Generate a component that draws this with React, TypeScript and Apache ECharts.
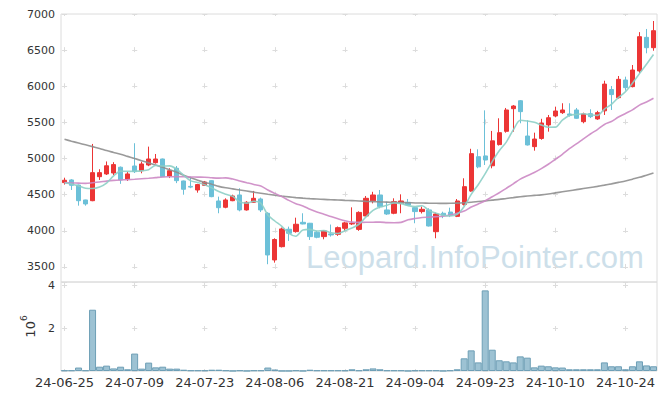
import React, { useEffect, useRef } from 'react';
import * as echarts from 'echarts';

const dates = [
  '24-06-25','24-06-26','24-06-27','24-06-28','24-07-01','24-07-02','24-07-03','24-07-04','24-07-05','24-07-08',
  '24-07-09','24-07-10','24-07-11','24-07-12','24-07-15','24-07-16','24-07-17','24-07-18','24-07-19','24-07-22',
  '24-07-23','24-07-24','24-07-25','24-07-26','24-07-29','24-07-30','24-07-31','24-08-01','24-08-02','24-08-05',
  '24-08-06','24-08-07','24-08-08','24-08-09','24-08-12','24-08-13','24-08-14','24-08-16','24-08-19','24-08-20',
  '24-08-21','24-08-22','24-08-23','24-08-26','24-08-27','24-08-28','24-08-29','24-08-30','24-09-02','24-09-03',
  '24-09-04','24-09-05','24-09-06','24-09-09','24-09-10','24-09-11','24-09-12','24-09-13','24-09-19','24-09-20',
  '24-09-23','24-09-24','24-09-25','24-09-26','24-09-27','24-09-30','24-10-02','24-10-04','24-10-07','24-10-08',
  '24-10-10','24-10-11','24-10-14','24-10-15','24-10-16','24-10-17','24-10-18','24-10-21','24-10-22','24-10-23',
  '24-10-24','24-10-25','24-10-28','24-10-29','24-10-30'
];

const opens = [
  4667,4704,4634,4427,4417,4749,4787,4800,4880,4717,
  4897,4832,4911,4943,4994,4759,4866,4690,4615,4565,
  4630,4694,4413,4326,4417,4496,4289,4395,4441,4243,
  3597,3781,4022,3989,4118,4105,3980,3920,3957,3952,
  4035,4095,4020,4206,4415,4496,4289,4243,4381,4395,
  4321,4266,4289,3988,4243,4260,4200,4365,4550,5026,
  5036,4900,5193,5377,5690,5800,5312,5165,5278,5465,
  5589,5635,5617,5672,5510,5621,5548,5660,5955,5842,
  6087,5995,6212,6677,6534
];
const closes = [
  4700,4630,4417,4372,4805,4805,4900,4916,4704,4787,
  4818,4925,4994,4994,4749,4832,4694,4575,4605,4640,
  4676,4473,4320,4427,4482,4289,4395,4450,4289,3666,
  3880,4026,3966,4091,4095,3920,3911,3998,3943,4044,
  4110,4105,4255,4450,4496,4335,4233,4404,4413,4358,
  4266,4298,4067,4233,4215,4215,4413,4611,5068,4885,
  4980,5245,5358,5672,5727,5649,5188,5270,5492,5565,
  5658,5672,5598,5557,5617,5580,5635,6030,5885,6096,
  5981,6225,6686,6534,6769
];
const lows = [
  4640,4565,4348,4348,4410,4704,4773,4770,4650,4690,
  4800,4796,4895,4930,4745,4730,4660,4500,4590,4528,
  4620,4465,4243,4312,4410,4270,4280,4390,4260,3538,
  3560,3770,3860,3975,4090,3874,3897,3883,3920,3930,
  4000,4080,4000,4200,4380,4312,4220,4230,4243,4350,
  4105,4240,4060,3897,4175,4190,4190,4350,4540,4866,
  4911,4865,5180,5358,5372,5488,5180,5109,5260,5372,
  5571,5617,5580,5550,5488,5560,5535,5603,5672,5830,
  5940,5985,6180,6456,6492
];
const highs = [
  4735,4715,4640,4430,5202,4852,4960,4950,4890,4820,
  5212,4957,5165,5063,5000,4866,4897,4695,4750,4650,
  4690,4700,4473,4450,4500,4589,4410,4552,4460,4257,
  3897,4045,4058,4182,4243,4110,4000,4010,4087,4060,
  4125,4325,4270,4482,4540,4565,4404,4450,4505,4441,
  4330,4335,4312,4250,4265,4320,4440,4727,5135,5128,
  5667,5382,5557,5700,5740,5810,5530,5358,5550,5603,
  5718,5765,5765,5700,5635,5682,5660,6077,6004,6142,
  6133,6294,6749,6793,6903
];

const ma5 = [
  4665,4648,4621,4590,4585,4606,4660,4760,4826,4822,
  4825,4830,4846,4904,4896,4899,4853,4769,4691,4669,
  4638,4594,4543,4507,4476,4398,4383,4409,4381,4218,
  4136,4062,3965,3926,4012,4020,3997,4003,3973,3963,
  4001,4040,4091,4193,4283,4328,4354,4384,4376,4349,
  4335,4348,4280,4244,4216,4206,4229,4337,4504,4638,
  4791,4958,5107,5228,5396,5530,5519,5501,5465,5433,
  5435,5531,5597,5610,5620,5605,5597,5684,5749,5845,
  5925,6043,6175,6304,6439
];
const ma20 = [
  4667,4662,4660,4657,4665,4675,4688,4698,4704,4708,
  4713,4720,4727,4736,4745,4748,4750,4748,4745,4743,
  4742,4734,4729,4732,4716,4690,4665,4641,4621,4565,
  4518,4473,4421,4376,4344,4298,4259,4230,4197,4167,
  4139,4120,4117,4118,4119,4121,4113,4111,4117,4152,
  4171,4185,4190,4197,4203,4217,4243,4273,4329,4372,
  4415,4472,4527,4588,4650,4716,4763,4807,4861,4921,
  4990,5059,5136,5202,5272,5340,5401,5472,5513,5574,
  5624,5673,5739,5782,5834
];
const ma60 = [
  5267,5240,5215,5190,5165,5140,5110,5085,5060,5030,
  5000,4970,4940,4910,4880,4845,4810,4770,4735,4700,
  4670,4645,4615,4595,4580,4565,4550,4535,4520,4505,
  4492,4480,4470,4460,4452,4445,4440,4435,4430,4427,
  4422,4418,4413,4408,4404,4400,4397,4394,4391,4389,
  4386,4384,4382,4381,4380,4381,4383,4388,4395,4405,
  4415,4425,4435,4448,4460,4472,4482,4490,4498,4510,
  4525,4540,4555,4570,4585,4600,4615,4632,4650,4670,
  4690,4715,4740,4770,4800
];

// volume in millions (x 10^6)
const volumes = [
  0.03,0.03,0.16,0.03,2.85,0.20,0.25,0.12,0.20,0.08,
  0.81,0.11,0.39,0.17,0.20,0.11,0.11,0.06,0.03,0.03,
  0.03,0.06,0.06,0.03,0.005,0.03,0.005,0.03,0.03,0.16,
  0.07,0.005,0.005,0.03,0.005,0.06,0.03,0.03,0.03,0.03,
  0.03,0.08,0.03,0.08,0.12,0.08,0.03,0.03,0.03,0.005,
  0.03,0.03,0.03,0.03,0.005,0.03,0.08,0.59,0.96,0.40,
  3.75,0.99,0.50,0.45,0.40,0.68,0.62,0.17,0.25,0.22,
  0.17,0.16,0.08,0.08,0.08,0.08,0.08,0.40,0.22,0.22,
  0.08,0.22,0.45,0.26,0.22
];

const priceMin = 3292;
const priceMax = 7000;
const priceStep = 500;
const volMax = 4.14;
const volStep = 2;

const W = 665;
const H = 400;
const GRID_LEFT = 61;
const GRID_RIGHT = 8;
const MAIN_TOP = 14;
const MAIN_H = 268;
const VOL_TOP = 282;
const VOL_H = 89;
const LABEL_EVERY = 10;
const CROSS = 5;
const GRID_COLOR = '#dcdcdc';
const FONT = 'DejaVu Sans';

export default function App() {
  const ref = useRef<HTMLDivElement>(null);

  useEffect(() => {
    document.body.style.margin = '0';
    if (!ref.current) return;
    const chart = echarts.init(ref.current, undefined, { renderer: 'svg' });

    const plotW = W - GRID_LEFT - GRID_RIGHT;
    const catW = plotW / dates.length;
    const periodX = catW * LABEL_EVERY;
    const hStart = catW / 2 - CROSS / 2;
    const hDash = { type: [CROSS, periodX - CROSS], dashOffset: periodX - hStart };

    const periodYMain = (MAIN_H * priceStep) / (priceMax - priceMin);
    const vDashMain = { type: [CROSS, periodYMain - CROSS], dashOffset: CROSS / 2 };

    const periodYVol = (VOL_H * volStep) / volMax;
    const firstVol = ((volMax - 4) / volMax) * VOL_H;
    const vDashVol = { type: [CROSS, periodYVol - CROSS], dashOffset: periodYVol - (firstVol - CROSS / 2) };

    const candleData = dates.map((_, i) => [opens[i], closes[i], lows[i], highs[i]]);

    const option: any = {
      animation: false,
      textStyle: { fontFamily: FONT },
      grid: [
        { left: GRID_LEFT, right: GRID_RIGHT, top: MAIN_TOP, height: MAIN_H, show: true, borderColor: GRID_COLOR, borderWidth: 1, backgroundColor: 'transparent' },
        { left: GRID_LEFT, right: GRID_RIGHT, top: VOL_TOP, height: VOL_H, show: true, borderColor: GRID_COLOR, borderWidth: 1, backgroundColor: 'transparent' },
      ],
      xAxis: [
        {
          type: 'category', gridIndex: 0, data: dates, boundaryGap: true,
          axisLine: { show: false }, axisTick: { show: false },
          axisLabel: { show: false, interval: LABEL_EVERY - 1 },
          splitLine: { show: true, interval: LABEL_EVERY - 1, alignWithLabel: true, lineStyle: { color: GRID_COLOR, width: 1, ...vDashMain } },
        },
        {
          type: 'category', gridIndex: 1, data: dates, boundaryGap: true,
          axisLine: { show: false }, axisTick: { show: false },
          axisLabel: { show: true, interval: LABEL_EVERY - 1, fontSize: 13, color: '#333', margin: 5, fontFamily: FONT },
          splitLine: { show: true, interval: LABEL_EVERY - 1, alignWithLabel: true, lineStyle: { color: GRID_COLOR, width: 1, ...vDashVol } },
        },
      ],
      yAxis: [
        {
          type: 'value', gridIndex: 0, min: priceMin, max: priceMax, splitNumber: 7,
          minInterval: priceStep, maxInterval: priceStep,
          axisLine: { show: false }, axisTick: { show: false },
          axisLabel: {
            fontSize: 11, color: '#333', margin: 6, fontFamily: FONT,
            formatter: (v: number) => (v % priceStep === 0 ? String(v) : ''),
          },
          splitLine: { show: true, lineStyle: { color: GRID_COLOR, width: 1, ...hDash } },
        },
        {
          type: 'value', gridIndex: 1, min: 0, max: volMax, interval: volStep,
          axisLine: { show: false }, axisTick: { show: false },
          axisLabel: {
            fontSize: 11, color: '#333', margin: 6, fontFamily: FONT,
            formatter: (v: number) => (v === 2 || v === 4 ? String(v) : ''),
          },
          splitLine: { show: true, lineStyle: { color: GRID_COLOR, width: 1, ...hDash } },
          name: '{b|10}{s|6}',
          nameLocation: 'middle',
          nameRotate: 90,
          nameGap: 22,
          nameTextStyle: {
            rich: {
              b: { fontSize: 13, color: '#333', fontFamily: FONT, lineHeight: 18, verticalAlign: 'bottom' },
              s: { fontSize: 9, color: '#333', fontFamily: FONT, lineHeight: 18, verticalAlign: 'top' },
            },
          },
        },
      ],
      graphic: [
        {
          type: 'text', x: 306, y: 257, z: 0, silent: true,
          style: {
            text: 'Leopard.InfoPointer.com', fontSize: 31, fontFamily: 'Liberation Sans',
            fill: '#cddfea', textAlign: 'left', textVerticalAlign: 'middle',
          },
        },
      ],
      series: [
        {
          type: 'bar', name: 'Volume', xAxisIndex: 1, yAxisIndex: 1, data: volumes,
          barWidth: '100%', barCategoryGap: '0%',
          itemStyle: { color: '#9dc2d3', borderColor: '#6e9fb6', borderWidth: 1 },
        },
        {
          type: 'candlestick', name: 'Price', xAxisIndex: 0, yAxisIndex: 0, data: candleData,
          barWidth: '68%',
          itemStyle: { color: '#ec3535', color0: '#6cc0d8', borderColor: '#ec3535', borderColor0: '#6cc0d8', borderWidth: 1 },
        },
        {
          type: 'line', name: 'MA60', xAxisIndex: 0, yAxisIndex: 0, data: ma60, showSymbol: false, smooth: 0.3,
          lineStyle: { color: '#8f8f8f', width: 1.6, opacity: 0.9 }, z: 3,
        },
        {
          type: 'line', name: 'MA20', xAxisIndex: 0, yAxisIndex: 0, data: ma20, showSymbol: false, smooth: 0.3,
          lineStyle: { color: '#cc88c4', width: 1.6, opacity: 0.9 }, z: 3,
        },
        {
          type: 'line', name: 'MA5', xAxisIndex: 0, yAxisIndex: 0, data: ma5, showSymbol: false, smooth: 0.3,
          lineStyle: { color: '#8dcfc6', width: 1.6, opacity: 0.9 }, z: 3,
        },
      ],
    };

    chart.setOption(option);
    return () => chart.dispose();
  }, []);

  return <div ref={ref} style={{ width: W, height: H }} />;
}
